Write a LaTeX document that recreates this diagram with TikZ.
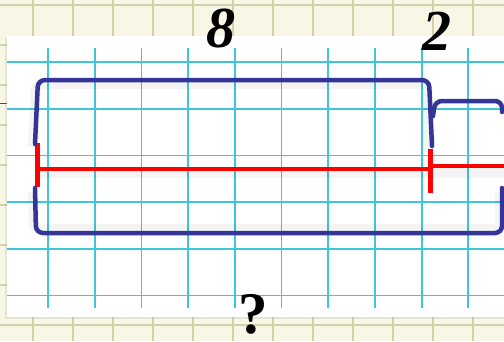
\documentclass[tikz,border=0pt]{standalone}
\usepackage{fontspec}
\setmainfont{Liberation Serif}
\usetikzlibrary{shadows}
\definecolor{paperbg}{HTML}{F8F7E5}
\definecolor{paperline}{HTML}{D3D1AA}
\definecolor{gridcyan}{HTML}{40C6D8}
\definecolor{inkblue}{HTML}{343499}
\definecolor{inkred}{HTML}{FF0000}
\tikzset{
  bgline/.style={paperline, line width=1.8pt},
  cyanline/.style={gridcyan, line width=1.8pt},
  bracketline/.style={inkblue, line width=4.5pt, rounded corners=7pt, line cap=round},
  segline/.style={inkred, line width=4.5pt},
  tickline/.style={inkred, line width=5pt},
  shadowline/.style={black, opacity=0.045, line width=10pt, rounded corners=7pt},
  numlabel/.style={inner sep=0pt, font=\fontsize{58}{60}\selectfont\bfseries\itshape},
  qlabel/.style={inner sep=0pt, font=\fontsize{59}{61}\selectfont\bfseries},
}
\begin{document}
\begin{tikzpicture}[x=1pt,y=-1pt]
\useasboundingbox (0,0) rectangle (504,341);
% beige notebook paper
\fill[paperbg] (0,0) rectangle (504,341);
\foreach \gx in {33,73,...,513} \draw[bgline] (\gx,0) -- (\gx,341);
\foreach \gy in {5,45,...,325} \draw[bgline] (0,\gy) -- (504,\gy);
\draw[inkred, line width=1pt] (0,103) -- (7,103);
% white squared sheet
\fill[white, drop shadow={opacity=0.15, shadow xshift=-2pt, shadow yshift=-2pt}] (7,36) rectangle (510,317);
\foreach \k in {0,...,9} \draw[cyanline] ({48+46.7*\k},48) -- ({48+46.7*\k},308);
\foreach \k in {0,...,5} \draw[cyanline] (7,{62+46.7*\k}) -- (504,{62+46.7*\k});
% named points
\coordinate (A) at (37,169);
\coordinate (B) at (430,169);
\coordinate (Bq) at (430,166);
\coordinate (E) at (504,166);
\coordinate (At) at (37,143);
\coordinate (Ab) at (37,187);
\coordinate (Bt) at (430,149);
\coordinate (Bb) at (430,193);
% soft shadows
\draw[shadowline] (33,147) -- (36,84) -- (427,84) -- (430,149);
\draw[shadowline] (33,192) -- (34,229) -- (500,229) -- (500,192);
\draw[shadowline] (35,173) -- (504,173);
% red segment
\draw[segline] (A) -- (B);
\draw[segline] (Bq) -- (E);
\draw[tickline] (At) -- (Ab);
\draw[tickline] (Bt) -- (Bb);
% blue brackets
\draw[bracketline] (35,144) -- (38,80) -- (429,80) -- (432,146);
\draw[bracketline] (433,116) -- (435,101) -- (502,101) -- (502,112);
\draw[bracketline] (35,188) -- (36,233) -- (502,233) -- (502,188);
% labels
\node[numlabel] (eight) at (221,28) {8};
\node[numlabel] (two) at (437,31) {2};
\node[qlabel] (q) at (253,314) {?};
\end{tikzpicture}
\end{document}
